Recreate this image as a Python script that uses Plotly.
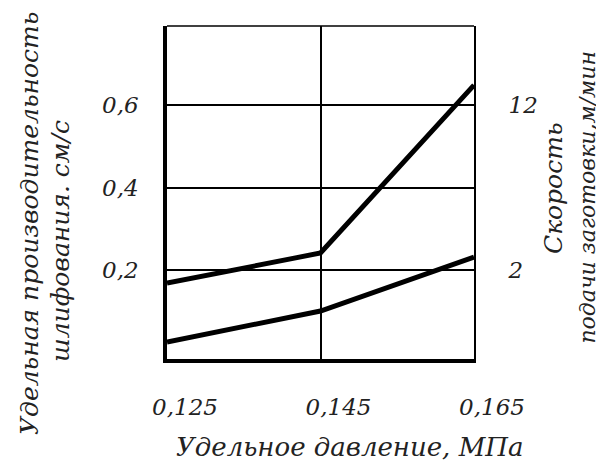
import plotly.graph_objects as go

# Data
pressure = [0.125, 0.145, 0.165]                 # Удельное давление, МПа
productivity = [0.026, 0.101, 0.232]             # Удельная производительность шлифования, см/с (left axis)
feed_speed = [1.22, 3.04, 13.22]                 # Скорость подачи заготовки, м/мин (right axis)

x_ticks = [0.125, 0.145, 0.165]
x_ticktext = ["0,125", "0,145", "0,165"]
y_ticks = [0.2, 0.4, 0.6]
y_ticktext = ["0,2", "0,4", "0,6"]
y2_ticks = [2, 12]
y2_ticktext = ["2", "12"]

FONT = "DejaVu Serif"
tick_font = dict(family=FONT, size=23, color="#222222", style="italic")
title_font = dict(family=FONT, size=25, color="#222222", style="italic")
edge_font = dict(family=FONT, size=22, color="#222222", style="italic")
xtitle_font = dict(family=FONT, size=26, color="#222222", style="italic")

fig = go.Figure()
fig.add_trace(go.Scatter(x=pressure, y=productivity, mode="lines",
                         line=dict(color="black", width=5), yaxis="y", showlegend=False))
fig.add_trace(go.Scatter(x=pressure, y=feed_speed, mode="lines",
                         line=dict(color="black", width=5), yaxis="y2", showlegend=False))

fig.update_layout(
    width=596, height=454,
    margin=dict(l=159, r=130, t=18, b=103),
    paper_bgcolor="white", plot_bgcolor="white",
    showlegend=False,
    xaxis=dict(
        range=[0.125, 0.165], tickvals=x_ticks, ticktext=x_ticktext,
        showgrid=True, gridcolor="black", gridwidth=1.5,
        showline=True, linecolor="black", linewidth=3.5,
        ticks="", tickfont=tick_font, ticklabelstandoff=25, ticklabelshift=18,
        zeroline=False,
    ),
    yaxis=dict(
        range=[-0.0153, 0.792], tickvals=y_ticks, ticktext=y_ticktext,
        showgrid=True, gridcolor="black", gridwidth=1.5,
        showline=True, linecolor="black", linewidth=3.5,
        ticks="", tickfont=tick_font, ticklabelstandoff=20,
        zeroline=False,
    ),
    yaxis2=dict(
        range=[-3.38, 16.8], tickvals=y2_ticks, ticktext=y2_ticktext,
        overlaying="y", side="right", showgrid=False,
        showline=True, linecolor="black", linewidth=2,
        ticks="", tickfont=tick_font, ticklabelstandoff=28,
        zeroline=False,
    ),
    shapes=[dict(type="line", xref="paper", yref="paper", x0=0, x1=1, y0=1, y1=1,
                 line=dict(color="black", width=1.5))],
    annotations=[
        dict(text="Удельная производительность", xref="paper", yref="paper",
             x=-0.4495, y=0.4054, xanchor="center", yanchor="middle", textangle=-90,
             showarrow=False, font=title_font),
        dict(text="шлифования. см/с", xref="paper", yref="paper",
             x=-0.3453, y=0.3544, xanchor="center", yanchor="middle", textangle=-90,
             showarrow=False, font=title_font),
        dict(text="Скорость", xref="paper", yref="paper",
             x=1.2573, y=0.5135, xanchor="center", yanchor="middle", textangle=-90,
             showarrow=False, font=title_font),
        dict(text="подачи заготовки,м/мин", xref="paper", yref="paper",
             x=1.370, y=0.4865, xanchor="center", yanchor="middle", textangle=-90,
             showarrow=False, font=edge_font),
        dict(text="Удельное давление, МПа", xref="paper", yref="paper",
             x=0.596, y=-0.2643, xanchor="center", yanchor="middle",
             showarrow=False, font=xtitle_font),
    ],
)

fig.write_html("out.html")
